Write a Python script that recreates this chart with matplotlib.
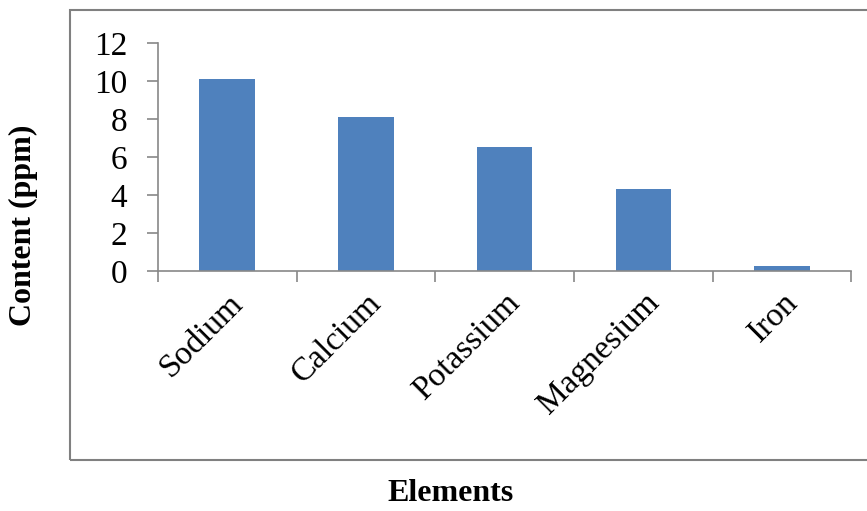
import numpy as np
import matplotlib.pyplot as plt
from matplotlib.patches import Rectangle

plt.rcParams['font.family'] = ['Liberation Serif', 'DejaVu Serif']

elements = ['Sodium', 'Calcium', 'Potassium', 'Magnesium', 'Iron']
content = [10.1, 8.1, 6.5, 4.3, 0.28]

fig = plt.figure(figsize=(8.67, 5.11), dpi=100)
ax = fig.add_axes([0.182, 0.470, 0.800, 0.446])

x = np.arange(len(elements))
ax.bar(x, content, width=0.4, color='#4F81BD')

ax.set_xlim(-0.5, len(elements) - 0.5)
ax.set_ylim(0, 12)
ax.set_yticks(range(0, 13, 2))

# labels at centers, tick marks at category boundaries
ax.set_xticks(x)
ax.set_xticklabels(elements, rotation=45, ha='right', rotation_mode='anchor', fontsize=24)
ax.set_xticks(np.arange(-0.5, len(elements)), minor=True)
ax.tick_params(axis='x', which='major', length=0, pad=12)
ax.tick_params(axis='x', which='minor', length=8, color='#888888', width=1.2)
ax.tick_params(axis='y', length=8, color='#888888', width=1.2, labelsize=24, pad=14)

for s in ['top', 'right']:
    ax.spines[s].set_visible(False)
for s in ['left', 'bottom']:
    ax.spines[s].set_color('#888888')
    ax.spines[s].set_linewidth(1.2)

# chart border
fig.patches.append(Rectangle((70 / 867, (511 - 460) / 511), 1.0, (460 - 10) / 511,
                             transform=fig.transFigure, fill=False,
                             edgecolor='#808080', linewidth=1.5))

fig.text(0.027, 0.56, 'Content (ppm)', rotation=90, ha='center', va='center',
         fontsize=23, fontweight='bold')
fig.text(0.52, 0.034, 'Elements', ha='center', va='center', fontsize=23, fontweight='bold')

fig.savefig('out.png', dpi=100)
